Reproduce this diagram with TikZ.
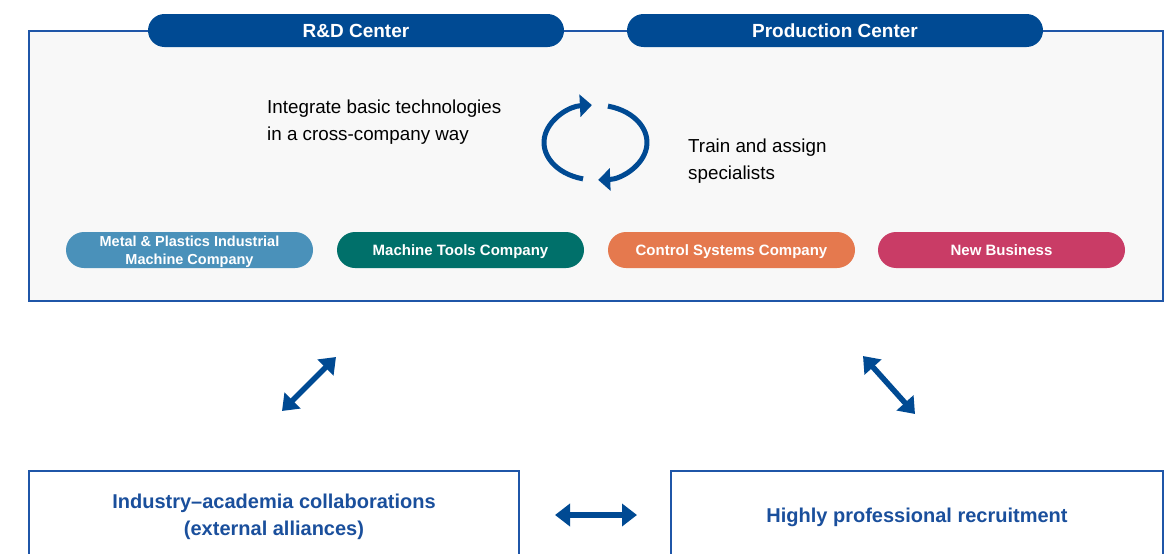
\documentclass[tikz,border=0pt]{standalone}
\usepackage{fontspec}
\setmainfont{Liberation Sans}
\usetikzlibrary{arrows.meta}
\definecolor{hdrblue}{HTML}{004A93}
\definecolor{edgeblue}{HTML}{1F56A8}
\definecolor{txtblue}{HTML}{1A4F9C}
\definecolor{panelgray}{HTML}{F8F8F8}
\definecolor{cmetal}{HTML}{4A91BA}
\definecolor{cmach}{HTML}{00706A}
\definecolor{cctrl}{HTML}{E5794E}
\definecolor{cnew}{HTML}{C93C66}
\tikzset{
  hdrpill/.style={fill=hdrblue, rounded corners=16.5pt, minimum width=416pt, minimum height=33pt, inner sep=0pt, text=white, font=\fontsize{19}{22}\selectfont\bfseries},
  cpill/.style={rounded corners=18pt, minimum width=247pt, minimum height=36pt, inner sep=0pt, text=white, align=center, font=\fontsize{15}{17}\selectfont\bfseries},
  bodytxt/.style={anchor=west, align=left, inner sep=0pt, font=\fontsize{18.8}{27}\selectfont},
  bigarrow/.style={draw=hdrblue, line width=5.5pt, {Triangle[length=15pt,width=22pt]}-{Triangle[length=15pt,width=22pt]}},
  cycarrow/.style={draw=hdrblue, line width=5pt, -{Triangle[length=12pt,width=22pt]}},
  outbox/.style={draw=edgeblue, line width=1.1pt},
  boxtxt/.style={text=txtblue, align=center, inner sep=0pt, font=\fontsize{20}{27}\selectfont\bfseries}
}
\begin{document}
\begin{tikzpicture}[x=1pt,y=-1pt]
\useasboundingbox (0,0) rectangle (1173,554);
% main panel
\draw[outbox, fill=panelgray] (29,31) rectangle (1163,301);
\node[hdrpill] (rd) at (356,30.5) {R\&D Center};
\node[hdrpill] (pc) at (835,30.5) {Production Center};
% texts
\node[bodytxt] (integ) at (267,122.5) {Integrate basic technologies\\in a cross-company way};
\node[bodytxt] (train) at (688,161) {Train and assign\\specialists};
% cycle icon
\coordinate (cyc) at (595.5,142.5);
\draw[cycarrow] ([shift={(104:51.5 and 37.5)}]cyc) arc[start angle=104, end angle=266, x radius=51.5, y radius=37.5];
\draw[cycarrow] ([shift={(-76:51.5 and 37.5)}]cyc) arc[start angle=-76, end angle=87, x radius=51.5, y radius=37.5];
% company pills
\draw[fill=cmetal, draw=none, rounded corners=18pt] (66,232) rectangle (313,268);
\node[text=white, align=center, inner sep=0pt, font=\fontsize{14.5}{18}\selectfont\bfseries] (metal) at (189.5,252) {Metal \& Plastics Industrial\\Machine Company};
\node[cpill, fill=cmach, text depth=0pt] (mach) at (460.5,250) {Machine Tools Company};
\node[cpill, fill=cctrl, text depth=0pt] (ctrl) at (731.5,250) {Control Systems Company};
\node[cpill, fill=cnew, text depth=0pt] (newb) at (1001.5,250) {New Business};
% bottom boxes
\draw[outbox] (29,575) -- (29,471) -- (519,471) -- (519,575);
\draw[outbox] (671,575) -- (671,471) -- (1163,471) -- (1163,575);
\node[boxtxt] (ind) at (274,517) {Industry--academia collaborations\\(external alliances)};
\node[boxtxt] (hire) at (917,517) {Highly professional recruitment};
% arrows
\coordinate (a1) at (282,411);
\coordinate (a2) at (336,357);
\coordinate (b1) at (863,356);
\coordinate (b2) at (915,414);
\coordinate (c1) at (555,515);
\coordinate (c2) at (637,515);
\draw[bigarrow] (a1) -- (a2);
\draw[bigarrow] (b1) -- (b2);
\draw[bigarrow] (c1) -- (c2);
\end{tikzpicture}
\end{document}
